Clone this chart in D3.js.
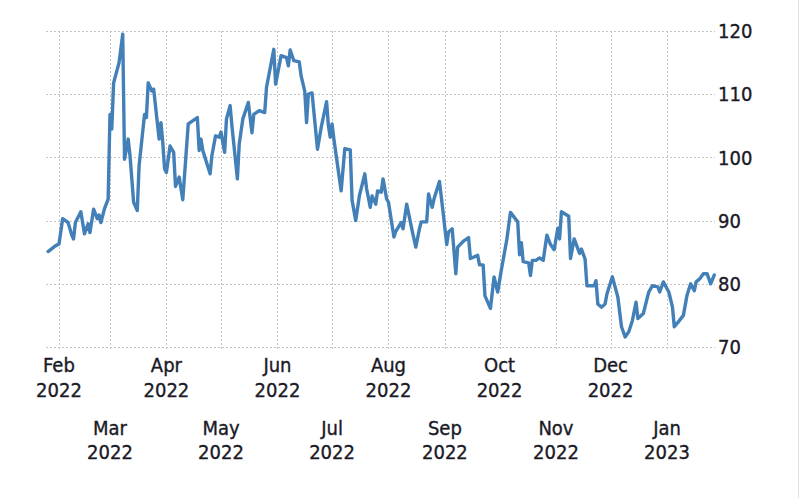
<!DOCTYPE html>
<html>
<head>
<meta charset="utf-8">
<script src="https://cdn.jsdelivr.net/npm/d3@7"></script>
<style>
  html, body { margin: 0; padding: 0; background: #fff; }
  svg { display: block; }
  .lbl { font-family: "DejaVu Sans Condensed", "DejaVu Sans", sans-serif; font-stretch: condensed; font-size: 20px; fill: #1a1a26; stroke: #1a1a26; stroke-width: 0.35px; }
</style>
</head>
<body>
<div id="chart"></div>
<script>
const dates = [
"2022-01-26","2022-01-30","2022-02-01","2022-02-03","2022-02-06","2022-02-08","2022-02-09","2022-02-10","2022-02-13","2022-02-15",
"2022-02-17","2022-02-18","2022-02-20","2022-02-22","2022-02-23","2022-02-24","2022-02-26","2022-02-28","2022-03-01","2022-03-02",
"2022-03-03","2022-03-06","2022-03-08","2022-03-09","2022-03-11","2022-03-12","2022-03-14","2022-03-16","2022-03-17","2022-03-20",
"2022-03-21","2022-03-22","2022-03-24","2022-03-25","2022-03-28","2022-03-29","2022-03-30","2022-03-31","2022-04-01","2022-04-03",
"2022-04-05","2022-04-06","2022-04-08","2022-04-10","2022-04-13","2022-04-18","2022-04-19","2022-04-20","2022-04-21","2022-04-25",
"2022-04-26","2022-04-28","2022-04-30","2022-05-01","2022-05-03","2022-05-04","2022-05-06","2022-05-07","2022-05-10","2022-05-11",
"2022-05-13","2022-05-16","2022-05-18","2022-05-19","2022-05-22","2022-05-25","2022-05-26","2022-05-27","2022-05-30","2022-05-31",
"2022-06-03","2022-06-06","2022-06-07","2022-06-08","2022-06-10","2022-06-13","2022-06-14","2022-06-16","2022-06-17","2022-06-18",
"2022-06-20","2022-06-23","2022-06-25","2022-06-28","2022-06-29","2022-06-30","2022-07-01","2022-07-02","2022-07-06","2022-07-08",
"2022-07-11","2022-07-12","2022-07-14","2022-07-16","2022-07-19","2022-07-20","2022-07-22","2022-07-23","2022-07-25","2022-07-26",
"2022-07-28","2022-07-29","2022-07-31","2022-08-01","2022-08-04","2022-08-05","2022-08-08","2022-08-09","2022-08-11","2022-08-14",
"2022-08-16","2022-08-18","2022-08-19","2022-08-22","2022-08-23","2022-08-25","2022-08-26","2022-08-29","2022-08-31","2022-09-02",
"2022-09-03","2022-09-05","2022-09-07","2022-09-08","2022-09-11","2022-09-14","2022-09-15","2022-09-19","2022-09-20","2022-09-22",
"2022-09-23","2022-09-26","2022-09-28","2022-09-30","2022-10-02","2022-10-05","2022-10-07","2022-10-11","2022-10-12","2022-10-13",
"2022-10-14","2022-10-17","2022-10-18","2022-10-19","2022-10-21","2022-10-23","2022-10-25","2022-10-27","2022-10-29","2022-10-31",
"2022-11-02","2022-11-03","2022-11-04","2022-11-08","2022-11-09","2022-11-11","2022-11-14","2022-11-15","2022-11-17","2022-11-18",
"2022-11-22","2022-11-23","2022-11-24","2022-11-26","2022-11-28","2022-11-29","2022-12-02","2022-12-05","2022-12-07","2022-12-09",
"2022-12-11","2022-12-13","2022-12-15","2022-12-16","2022-12-19","2022-12-21","2022-12-22","2022-12-24","2022-12-27","2022-12-28",
"2022-12-30","2023-01-02","2023-01-04","2023-01-05","2023-01-07","2023-01-10","2023-01-12","2023-01-14","2023-01-16","2023-01-17",
"2023-01-19","2023-01-21","2023-01-23","2023-01-25","2023-01-27"
];
const values = [
85.1,86.0,86.3,90.3,89.7,87.7,87.1,89.7,91.4,87.9,
89.5,88.1,91.8,90.3,90.9,89.7,91.9,93.4,106.8,104.5,
111.8,115.0,119.5,99.7,102.9,100.3,92.9,91.6,98.7,106.8,
106.3,111.8,110.5,110.8,102.9,105.5,102.4,98.2,97.6,101.8,
100.8,95.4,96.9,93.3,105.3,106.3,101.1,102.9,101.1,97.4,
100.3,103.4,103.2,104.0,100.8,106.1,108.2,105.0,96.6,102.1,
106.1,108.7,103.9,106.8,107.4,107.1,111.1,112.6,117.1,111.6,
116.1,115.8,114.5,117.0,115.3,115.1,112.9,110.5,105.5,110.0,
110.2,101.3,104.7,108.8,105.0,103.2,105.3,102.9,94.7,101.4,
101.2,93.2,90.0,93.9,97.4,95.0,92.1,93.9,92.6,94.7,
94.5,96.6,93.4,92.9,87.4,88.3,89.7,88.7,92.6,88.4,
85.8,88.7,89.8,89.8,94.2,92.1,93.4,96.2,91.3,86.2,
88.2,88.7,81.6,85.8,86.7,87.3,84.0,84.5,83.0,83.0,
78.1,76.1,81.1,78.7,82.2,87.0,91.3,89.8,84.6,86.5,
83.5,83.3,81.3,83.7,83.7,84.1,83.7,87.7,86.2,85.4,
88.8,87.1,91.4,90.7,84.0,87.1,84.8,85.5,83.9,79.7,
79.7,80.5,76.8,76.3,76.8,78.4,81.1,77.9,73.2,71.6,
72.4,74.2,77.1,74.5,75.3,77.6,78.7,79.7,79.5,78.7,
80.3,78.7,76.3,73.2,73.9,75.0,78.2,80.0,78.9,80.3,
80.8,81.6,81.6,80.0,81.4
];
const yTicks = [70, 80, 90, 100, 110, 120];
const tickDates = ["2022-02-01","2022-03-01","2022-04-01","2022-05-01","2022-06-01","2022-07-01",
                   "2022-08-01","2022-09-01","2022-10-01","2022-11-01","2022-12-01","2023-01-01"];
const tickMonths = ["Feb","Mar","Apr","May","Jun","Jul","Aug","Sep","Oct","Nov","Dec","Jan"];
const tickYears = ["2022","2022","2022","2022","2022","2022","2022","2022","2022","2022","2022","2023"];

const W = 800, H = 498;
const parse = d3.timeParse("%Y-%m-%d");
const data = dates.map((d, i) => ({ date: parse(d), value: values[i] }));

const gridLeft = 46, gridRight = 715;
const x = d3.scaleTime()
  .domain([parse("2022-02-01"), parse("2023-01-01")])
  .range([59, 667]);
const y = d3.scaleLinear().domain([70, 120]).range([347, 31]);

const svg = d3.select("#chart").append("svg").attr("width", W).attr("height", H);

// right border
svg.append("line").attr("x1", 798.5).attr("x2", 798.5).attr("y1", 0).attr("y2", H)
  .attr("stroke", "#e0e0e0").attr("stroke-width", 1);

const gridStyle = sel => sel.attr("stroke", "#c4c4c4").attr("stroke-width", 1)
  .attr("stroke-dasharray", "2,2").attr("shape-rendering", "crispEdges");

// horizontal grid
svg.append("g").selectAll("line").data(yTicks).join("line")
  .attr("x1", gridLeft).attr("x2", gridRight)
  .attr("y1", d => Math.round(y(d)) + 0.5).attr("y2", d => Math.round(y(d)) + 0.5)
  .call(gridStyle);

// vertical grid
const tds = tickDates.map(parse);
svg.append("g").selectAll("line").data(tds).join("line")
  .attr("x1", d => Math.round(x(d)) + 0.5).attr("x2", d => Math.round(x(d)) + 0.5)
  .attr("y1", y(120)).attr("y2", y(70) + 4)
  .call(gridStyle);

// y labels
svg.append("g").selectAll("text").data(yTicks).join("text")
  .attr("class", "lbl")
  .attr("x", 718).attr("y", d => y(d)).attr("dy", "0.36em")
  .text(d => d);

// x labels
const xl = svg.append("g");
tds.forEach((d, i) => {
  const lower = i % 2 === 1;
  const b1 = lower ? 435 : 372;
  const b2 = lower ? 459 : 397;
  xl.append("text").attr("class", "lbl").attr("text-anchor", "middle")
    .attr("x", x(d)).attr("y", b1).text(tickMonths[i]);
  xl.append("text").attr("class", "lbl").attr("text-anchor", "middle")
    .attr("x", x(d)).attr("y", b2).text(tickYears[i]);
});

// line
const line = d3.line().x(d => x(d.date)).y(d => y(d.value));
svg.append("path").datum(data)
  .attr("fill", "none").attr("stroke", "#4380b8").attr("stroke-width", 3.4)
  .attr("stroke-linejoin", "round").attr("stroke-linecap", "round")
  .attr("d", line);
</script>
</body>
</html>
